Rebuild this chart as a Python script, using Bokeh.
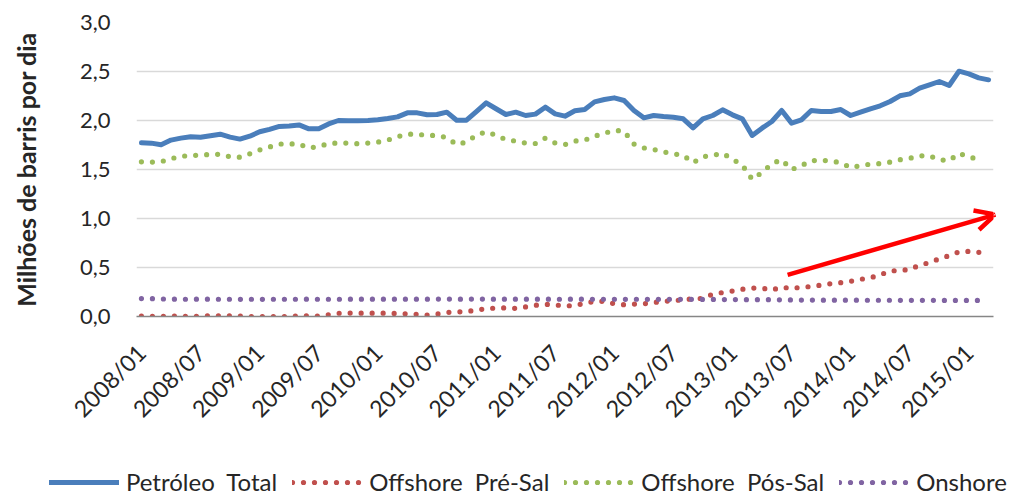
import math
from bokeh.plotting import figure
from bokeh.layouts import column
from bokeh.models import Range1d, FixedTicker, Legend, LegendItem, Arrow, OpenHead
from bokeh.embed import file_html
from bokeh.resources import INLINE

# ---- categories (monthly, 2008/01 .. 2015/03) ----
months = [f"{y}/{m:02d}" for y in range(2008, 2016) for m in range(1, 13)][:87]
tick_labels = ["2008/01", "2008/07", "2009/01", "2009/07", "2010/01", "2010/07",
               "2011/01", "2011/07", "2012/01", "2012/07", "2013/01", "2013/07",
               "2014/01", "2014/07", "2015/01"]
y_ticks = [0.0, 0.5, 1.0, 1.5, 2.0, 2.5, 3.0]
y_tick_labels = ["0,0", "0,5", "1,0", "1,5", "2,0", "2,5", "3,0"]

# ---- series (millions of barrels per day) ----
petroleo_total = [
    1.772, 1.769, 1.752, 1.800, 1.820, 1.835, 1.830, 1.845, 1.860, 1.830,
    1.810, 1.840, 1.885, 1.910, 1.940, 1.945, 1.955, 1.915, 1.915, 1.965,
    2.000, 1.997, 1.997, 2.000, 2.007, 2.020, 2.037, 2.078, 2.078, 2.058,
    2.061, 2.085, 2.003, 2.003, 2.090, 2.180, 2.120, 2.061, 2.085, 2.051,
    2.065, 2.136, 2.068, 2.044, 2.099, 2.112, 2.190, 2.214, 2.231, 2.204,
    2.102, 2.027, 2.051, 2.041, 2.034, 2.017, 1.925, 2.017, 2.051, 2.109,
    2.058, 2.017, 1.847, 1.922, 1.990, 2.102, 1.973, 2.007, 2.102, 2.092,
    2.092, 2.112, 2.051, 2.085, 2.119, 2.150, 2.194, 2.252, 2.272, 2.330,
    2.364, 2.398, 2.357, 2.503, 2.476, 2.435, 2.415]

offshore_pre_sal = [
    0.003, 0.003, 0.000, 0.003, 0.003, 0.000, 0.003, 0.007, 0.008, 0.007,
    0.003, 0.000, 0.000, 0.000, 0.000, 0.000, 0.008, 0.006, 0.004, 0.018,
    0.033, 0.035, 0.034, 0.034, 0.034, 0.034, 0.030, 0.027, 0.022, 0.015,
    0.025, 0.041, 0.047, 0.050, 0.065, 0.080, 0.086, 0.088, 0.083, 0.098,
    0.115, 0.124, 0.118, 0.108, 0.112, 0.135, 0.155, 0.155, 0.130, 0.120,
    0.127, 0.130, 0.143, 0.155, 0.160, 0.172, 0.180, 0.185, 0.228, 0.245,
    0.260, 0.278, 0.290, 0.290, 0.270, 0.300, 0.285, 0.300, 0.305, 0.320,
    0.335, 0.345, 0.360, 0.380, 0.395, 0.425, 0.465, 0.470, 0.480, 0.525,
    0.550, 0.590, 0.620, 0.660, 0.665, 0.655, 0.668]

offshore_pos_sal = [
    1.578, 1.575, 1.580, 1.610, 1.635, 1.642, 1.648, 1.653, 1.655, 1.630,
    1.625, 1.660, 1.700, 1.730, 1.760, 1.762, 1.760, 1.720, 1.735, 1.765,
    1.770, 1.770, 1.762, 1.770, 1.780, 1.800, 1.835, 1.860, 1.860, 1.848,
    1.848, 1.825, 1.755, 1.780, 1.850, 1.885, 1.850, 1.805, 1.790, 1.770,
    1.765, 1.820, 1.770, 1.755, 1.790, 1.800, 1.840, 1.870, 1.900, 1.890,
    1.760, 1.720, 1.705, 1.680, 1.660, 1.645, 1.570, 1.630, 1.645, 1.665,
    1.605, 1.545, 1.400, 1.470, 1.560, 1.600, 1.500, 1.540, 1.590, 1.595,
    1.585, 1.570, 1.520, 1.540, 1.555, 1.560, 1.575, 1.600, 1.615, 1.640,
    1.640, 1.600, 1.590, 1.665, 1.630, 1.600]

onshore = [
    0.183, 0.182, 0.179, 0.177, 0.176, 0.176, 0.177, 0.177, 0.176, 0.176,
    0.175, 0.176, 0.175, 0.176, 0.176, 0.176, 0.176, 0.177, 0.176, 0.176,
    0.176, 0.177, 0.177, 0.177, 0.177, 0.177, 0.177, 0.177, 0.177, 0.177,
    0.178, 0.178, 0.177, 0.177, 0.178, 0.178, 0.177, 0.177, 0.177, 0.177,
    0.177, 0.177, 0.176, 0.176, 0.177, 0.176, 0.176, 0.176, 0.176, 0.175,
    0.176, 0.176, 0.175, 0.175, 0.175, 0.175, 0.175, 0.174, 0.174, 0.173,
    0.173, 0.172, 0.172, 0.172, 0.171, 0.170, 0.169, 0.168, 0.168, 0.167,
    0.167, 0.167, 0.167, 0.166, 0.166, 0.166, 0.166, 0.165, 0.165, 0.165,
    0.165, 0.165, 0.164, 0.164, 0.164, 0.164]

series_names = ["Petróleo  Total", "Offshore  Pré-Sal", "Offshore  Pós-Sal", "Onshore"]
series_colors = ["#4A7EBB", "#C0504D", "#9BBB59", "#8064A2"]
series_dash = ["solid", "0 11", "0 11", "0 11"]
series_data = [petroleo_total, offshore_pre_sal, offshore_pos_sal, onshore]

# trend arrow (data units)
arrow_start = (65.6, 0.425)
arrow_end = (86.7, 1.04)

x_all = list(range(len(months)))

TEXT = "#262626"
FONT = "Lato"

p = figure(frame_width=857, frame_height=294, output_backend="svg", toolbar_location=None,
           x_range=Range1d(-0.5, len(months) - 0.5), y_range=Range1d(0, 3.0),
           min_border_left=136, min_border_right=19, min_border_top=22,
           min_border_bottom=140)
p.outline_line_color = None
p.background_fill_color = "white"
p.border_fill_color = "white"

# grid
p.xgrid.visible = False
p.ygrid.ticker = FixedTicker(ticks=y_ticks)
p.ygrid.grid_line_color = "#D9D9D9"
p.ygrid.grid_line_width = 1.5

# y axis
p.yaxis.ticker = FixedTicker(ticks=y_ticks)
p.yaxis.major_label_overrides = {t: l for t, l in zip(y_ticks, y_tick_labels)}
p.yaxis.axis_line_color = None
p.yaxis.major_tick_line_color = None
p.yaxis.minor_tick_line_color = None
p.yaxis.major_tick_out = 0
p.yaxis.major_tick_in = 0
p.yaxis.major_label_standoff = 26
p.yaxis.major_label_text_font = FONT
p.yaxis.major_label_text_font_size = "22px"
p.yaxis.major_label_text_color = TEXT
p.yaxis.axis_label = "Milhões de barris por dia"
p.yaxis.axis_label_text_font = FONT
p.yaxis.axis_label_text_font_style = "bold"
p.yaxis.axis_label_text_font_size = "25px"
p.yaxis.axis_label_text_color = TEXT
p.yaxis.axis_label_standoff = 36

# x axis
tick_pos = [months.index(t) for t in tick_labels]
p.xaxis.ticker = FixedTicker(ticks=tick_pos)
p.xaxis.major_label_overrides = {i: l for i, l in zip(tick_pos, tick_labels)}
p.xaxis.axis_line_color = "#868686"
p.xaxis.axis_line_width = 1.5
p.xaxis.major_tick_line_color = None
p.xaxis.minor_tick_line_color = None
p.xaxis.major_tick_out = 0
p.xaxis.major_tick_in = 0
p.xaxis.major_label_orientation = math.pi / 4
p.xaxis.major_label_standoff = 32
p.xaxis.major_label_text_font = FONT
p.xaxis.major_label_text_font_size = "23px"
p.xaxis.major_label_text_color = TEXT

# series
for vals, col, dash in zip(series_data, series_colors, series_dash):
    p.line(x_all[:len(vals)], vals, line_color=col,
           line_width=5 if dash == "solid" else 5.2, line_dash=dash,
           line_join="round", line_cap="round")

# arrow
p.add_layout(Arrow(end=OpenHead(size=20, line_color="#FF0000", line_width=4.5),
                   x_start=arrow_start[0], y_start=arrow_start[1],
                   x_end=arrow_end[0], y_end=arrow_end[1],
                   line_color="#FF0000", line_width=4.5))

# ---- legend strip below the chart ----
leg = figure(frame_width=1012, frame_height=40, output_backend="svg", toolbar_location=None,
             x_range=Range1d(0, 1), y_range=Range1d(0, 1),
             min_border_left=0, min_border_right=0, min_border_top=0, min_border_bottom=0)
leg_offset = 49
try:
    leg.frame_align = False
except Exception:
    leg_offset = 0
leg.axis.visible = False
leg.grid.visible = False
leg.outline_line_color = None
leg.border_fill_color = "white"
leg.background_fill_color = "white"
leg_renderers = []
for col, dash in zip(series_colors, series_dash):
    # samples lie outside the strip's ranges: only the legend glyph is visible
    leg_renderers.append(leg.line([5, 6], [5, 6], line_color=col,
                                  line_width=5 if dash == "solid" else 5.2,
                                  line_dash=dash, line_cap="round"))

legend = Legend(items=[LegendItem(label=n, renderers=[r]) for n, r in
                       zip(series_names, leg_renderers)],
                orientation="horizontal", location=(leg_offset, 0))
legend.label_text_font = FONT
legend.label_text_font_size = "24px"
legend.label_text_color = TEXT
legend.glyph_width = 70
legend.glyph_height = 24
legend.label_standoff = 7
legend.spacing = 15
legend.padding = 0
legend.margin = 0
legend.border_line_color = None
legend.background_fill_alpha = 0
leg.add_layout(legend, "center")

layout = column(p, leg, spacing=0)
open("out.html", "w").write(file_html(layout, INLINE))
